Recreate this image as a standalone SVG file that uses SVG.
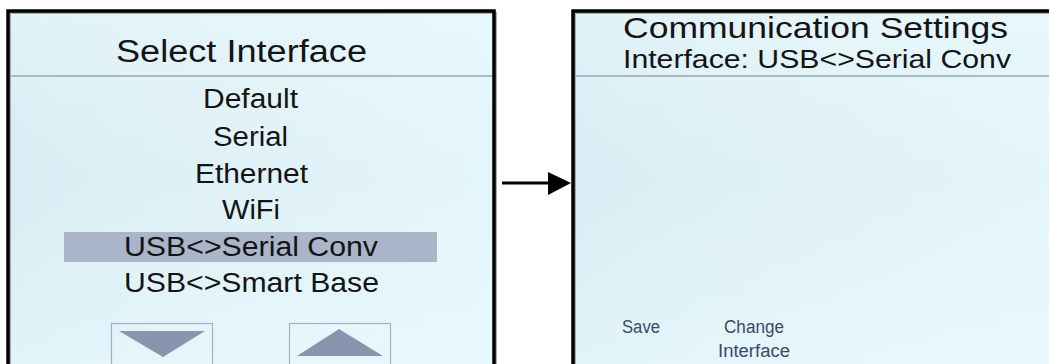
<svg xmlns="http://www.w3.org/2000/svg" width="1049" height="364" viewBox="0 0 1049 364">
  <defs>
    <linearGradient id="screenFill" x1="0" y1="0" x2="0" y2="1">
      <stop offset="0" stop-color="#dff3f9"/>
      <stop offset="0.45" stop-color="#d7edf3"/>
      <stop offset="1" stop-color="#e1f5fa"/>
    </linearGradient>
    <linearGradient id="screenSheen" x1="0" y1="0" x2="1" y2="0">
      <stop offset="0" stop-color="#ffffff" stop-opacity="0"/>
      <stop offset="1" stop-color="#ecfcff" stop-opacity="0.55"/>
    </linearGradient>
    <filter id="soft" x="-5%" y="-5%" width="110%" height="110%">
      <feGaussianBlur stdDeviation="0.5"/>
    </filter>
  </defs>
  <style>
    .frame { fill: none; stroke: #000; stroke-width: 3.5; }
    .shadow { fill: none; stroke: #8a8a8a; stroke-width: 2; opacity: 0.7; }
    .divider { stroke: #9ba7ac; stroke-width: 1.6; }
    .txt { font-family: "Liberation Sans", Arial, sans-serif; fill: #141414; }
    .title { font-size: 31px; }
    .item { font-size: 27px; }
    .head { font-size: 30px; }
    .sub { font-size: 25px; }
    .soft-key { font-family: "Liberation Sans", Arial, sans-serif; font-size: 18px; fill: #3b4968; }
    .btn { fill: none; stroke: #9fb0c9; stroke-width: 1.2; }
    .tri { fill: #8796ae; }
    .wire { stroke: #000; stroke-width: 3; fill: none; }
  </style>

  <rect width="1049" height="364" fill="#ffffff"/>

  <!-- Interface selection screen -->
  <g id="panel-select">
    <rect x="8" y="11" width="486" height="370" fill="url(#screenFill)"/>
    <rect x="8" y="11" width="486" height="370" fill="url(#screenSheen)"/>
    <rect class="shadow" x="10" y="13" width="486" height="370" filter="url(#soft)"/>
    <rect class="frame" x="8" y="11" width="486" height="370" filter="url(#soft)"/>
    <line class="divider" x1="10" y1="76" x2="492" y2="76"/>
    <text class="txt title" x="116" y="62" textLength="251" lengthAdjust="spacingAndGlyphs">Select Interface</text>
    <text class="txt item" x="203" y="108" textLength="95" lengthAdjust="spacingAndGlyphs">Default</text>
    <text class="txt item" x="213" y="146" textLength="75" lengthAdjust="spacingAndGlyphs">Serial</text>
    <text class="txt item" x="195" y="183" textLength="113" lengthAdjust="spacingAndGlyphs">Ethernet</text>
    <text class="txt item" x="222" y="219" textLength="58" lengthAdjust="spacingAndGlyphs">WiFi</text>
    <rect x="64" y="232" width="373" height="30" fill="#aab5c9"/>
    <text class="txt item" x="124" y="256" textLength="254" lengthAdjust="spacingAndGlyphs">USB&lt;&gt;Serial Conv</text>
    <text class="txt item" x="124" y="292" textLength="255" lengthAdjust="spacingAndGlyphs">USB&lt;&gt;Smart Base</text>
    <rect class="btn" x="111.5" y="323.5" width="101" height="50"/>
    <polygon class="tri" points="119,331 205,331 163,357"/>
    <rect class="btn" x="289.5" y="323.5" width="101" height="50"/>
    <polygon class="tri" points="297,356 383,356 339,329"/>
  </g>

  <!-- Communication settings screen -->
  <g id="panel-comm">
    <rect x="573" y="11" width="500" height="370" fill="url(#screenFill)"/>
    <rect x="573" y="11" width="500" height="370" fill="url(#screenSheen)"/>
    <rect class="shadow" x="575" y="13" width="500" height="370" filter="url(#soft)"/>
    <rect class="frame" x="573" y="11" width="500" height="370" filter="url(#soft)"/>
    <line class="divider" x1="575" y1="76" x2="1049" y2="76"/>
    <text class="txt head" x="623" y="38" textLength="385" lengthAdjust="spacingAndGlyphs">Communication Settings</text>
    <text class="txt sub" x="623" y="68" textLength="388" lengthAdjust="spacingAndGlyphs">Interface: USB&lt;&gt;Serial Conv</text>
    <text class="soft-key" x="622" y="333" textLength="38" lengthAdjust="spacingAndGlyphs">Save</text>
    <text class="soft-key" x="724" y="333" textLength="60" lengthAdjust="spacingAndGlyphs">Change</text>
    <text class="soft-key" x="718" y="357" textLength="72" lengthAdjust="spacingAndGlyphs">Interface</text>
  </g>

  <!-- Transition arrow -->
  <g id="connectors">
    <line class="wire" x1="502" y1="183" x2="551" y2="183"/>
    <polygon points="548,172 571,183 548,195" fill="#000"/>
  </g>
</svg>
